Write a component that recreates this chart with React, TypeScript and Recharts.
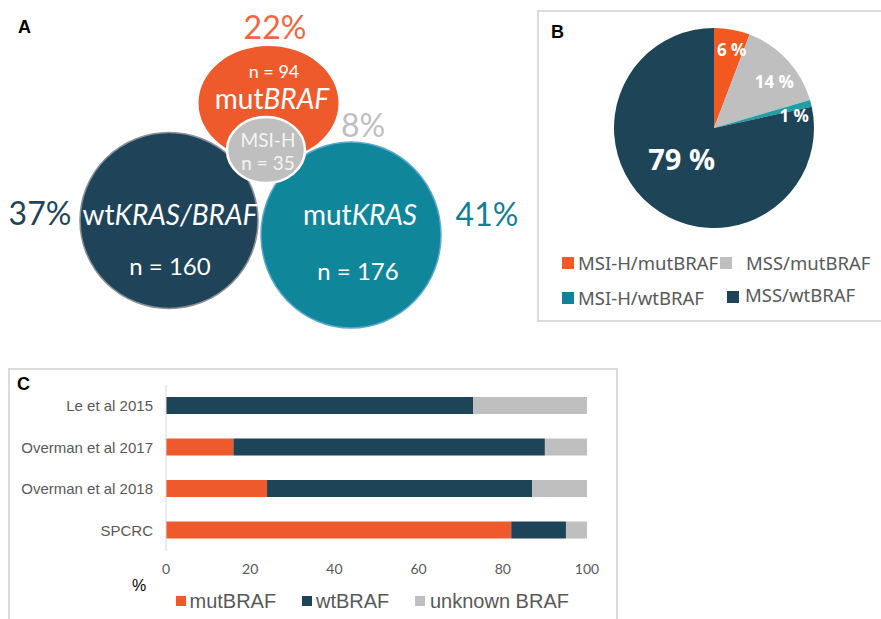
import React from 'react';
import { ScatterChart, Scatter, XAxis, YAxis, PieChart, Pie, Cell, BarChart, Bar } from 'recharts';

// ---------- Panel A data ----------
const vennSets = ['mutBRAF', 'wtKRAS/BRAF', 'mutKRAS', 'MSI-H'];
const vennCounts = [94, 160, 176, 35];
const vennPercents = [22, 37, 41, 8];

// ---------- Panel B data ----------
const pieCategories = ['MSI-H/mutBRAF', 'MSS/mutBRAF', 'MSI-H/wtBRAF', 'MSS/wtBRAF'];
const pieValues = [5.8, 14.7, 1.1, 78.4];
const pieLabels = ['6 %', '14 %', '1 %', '79 %'];

// ---------- Panel C data ----------
const studies = ['Le et al 2015', 'Overman et al 2017', 'Overman et al 2018', 'SPCRC'];
const mutBRAF = [0, 16, 24, 82];
const wtBRAF = [73, 74, 63, 13];
const unknownBRAF = [27, 10, 13, 5];
const barSeries = ['mutBRAF', 'wtBRAF', 'unknown BRAF'];
const xTicks = [0, 20, 40, 60, 80, 100];
const bandBoundaries = [0, 1, 2, 3, 4];

// ---------- styles / layout ----------
const ORANGE = '#EF5A2D';
const DARK = '#1E4458';
const TEAL = '#10869B';
const GRAY = '#BFBFBF';
const TEXT_GRAY = '#595959';

const vennLayout = [
  { x: 268.5, y: 103, rx: 70, ry: 57, fill: ORANGE, stroke: 'none', sw: 0 },
  { x: 169, y: 220.5, rx: 89, ry: 88, fill: '#1F4459', stroke: '#8a9096', sw: 1.5 },
  { x: 351, y: 235, rx: 90, ry: 93, fill: TEAL, stroke: '#5BA7D6', sw: 1.5 },
  { x: 266, y: 150, rx: 39, ry: 33, fill: GRAY, stroke: '#ffffff', sw: 2.5 },
];
const vennTextLayout = [
  { pct: [6.5, -75, 32, '#F0663F'], name: [3.5, -4, 28, '#ffffff'], n: [5.5, -31, 18, '#ffffff'] },
  { pct: [-129, -6.5, 32, '#1F4459'], name: [1, -5.5, 28, '#ffffff'], n: [1, 46.5, 24, '#ffffff'] },
  { pct: [136, -20, 32, '#127F96'], name: [9, -20, 28, '#ffffff'], n: [7, 37, 24, '#ffffff'] },
  { pct: [97, -24, 32, '#BFBFBF'], name: [2, -10, 19, '#f4f4f4'], n: [2, 13, 19, '#f4f4f4'] },
];

const pieColors = ['#F2581F', GRAY, '#1FA0A6', DARK];
const legendColorsB = ['#F05A2A', GRAY, '#0E8399', DARK];
const pieLabelPlace = [
  { a: 12.8, r: 80, size: 17 },
  { a: 52.5, r: 76, size: 17 },
  { a: 81.5, r: 81, size: 17 },
  { a: 226, r: 45, size: 29 },
];
const legendBPlace = [
  { sx: 23, sy: 245, tx: 39, ty: 251 },
  { sx: 181, sy: 245, tx: 207, ty: 251 },
  { sx: 23, sy: 280, tx: 39, ty: 286 },
  { sx: 188, sy: 279, tx: 206, ty: 283 },
];
const barColors = [ORANGE, DARK, GRAY];
const legendCPlace = [
  { sx: 165.5, tx: 179.5 },
  { sx: 292, tx: 306 },
  { sx: 404.5, tx: 420 },
];

const PIE_CX = 175;
const PIE_CY = 116;

const vennData = vennSets.map((name, i) => ({
  name,
  n: vennCounts[i],
  pct: vennPercents[i],
  x: vennLayout[i].x,
  y: vennLayout[i].y,
  idx: i,
}));

const pieData = pieCategories.map((name, i) => ({ name, value: pieValues[i], label: pieLabels[i] }));

const barData = studies.map((study, i) => ({
  study,
  mutBRAF: mutBRAF[i],
  wtBRAF: wtBRAF[i],
  unknown: unknownBRAF[i],
}));

const vennFont = 'Lato, "Open Sans", sans-serif';

const VennShape = (props: any) => {
  const { cx, cy, payload } = props;
  const L = vennLayout[payload.idx];
  return <ellipse cx={cx} cy={cy} rx={L.rx} ry={L.ry} fill={L.fill} stroke={L.stroke} strokeWidth={L.sw} />;
};

const splitName = (name: string) => {
  const m = name.match(/^(mut|wt)(.*)$/);
  if (m) return [m[1], m[2]];
  return [name, ''];
};

const VennText = (props: any) => {
  const { cx, cy, payload } = props;
  const T = vennTextLayout[payload.idx];
  const [plain, ital] = splitName(payload.name);
  const t = (spec: any, content: any, key: string) => (
    <text
      key={key}
      x={cx + spec[0]}
      y={cy + spec[1] + spec[2] * 0.35}
      textAnchor="middle"
      fontSize={spec[2]}
      fill={spec[3]}
      fontFamily={vennFont}
    >
      {content}
    </text>
  );
  return (
    <g>
      {t(T.pct, `${payload.pct}%`, 'p')}
      {t(T.name, [<tspan key="a">{plain}</tspan>, ital ? <tspan key="b" fontStyle="italic">{ital}</tspan> : null], 'nm')}
      {t(T.n, `n = ${payload.n}`, 'n')}
    </g>
  );
};

const renderPieLabel = (props: any) => {
  const { index } = props;
  const P = pieLabelPlace[index];
  const rad = (P.a * Math.PI) / 180;
  const x = PIE_CX + P.r * Math.sin(rad);
  const y = PIE_CY - P.r * Math.cos(rad);
  return (
    <text
      x={x}
      y={y + P.size * 0.36}
      textAnchor="middle"
      fill="#ffffff"
      fontSize={P.size}
      fontWeight="bold"
      fontFamily='"Open Sans", sans-serif'
    >
      {pieLabels[index]}
    </text>
  );
};

const panelLetter = (letter: string, left: number, top: number) => (
  <div
    style={{
      position: 'absolute',
      left,
      top,
      fontFamily: '"Liberation Sans", Arial, sans-serif',
      fontWeight: 'bold',
      fontSize: 18,
      lineHeight: '18px',
      color: '#000',
    }}
  >
    {letter}
  </div>
);

export default function App() {
  return (
    <div
      style={{
        position: 'absolute',
        left: 0,
        top: 0,
        width: 881,
        height: 619,
        overflow: 'hidden',
        background: '#ffffff',
      }}
    >
      {/* Panel A */}
      <div style={{ position: 'absolute', left: 0, top: 0 }}>
        <ScatterChart width={540} height={345} margin={{ top: 0, right: 0, bottom: 0, left: 0 }}>
          <XAxis type="number" dataKey="x" domain={[0, 540]} hide />
          <YAxis type="number" dataKey="y" domain={[0, 345]} reversed hide />
          <Scatter data={vennData} shape={VennShape} isAnimationActive={false} />
          <Scatter data={vennData} shape={VennText} isAnimationActive={false} />
        </ScatterChart>
        {panelLetter('A', 18, 18)}
      </div>

      {/* Panel B */}
      <div
        style={{
          position: 'absolute',
          left: 537,
          top: 10,
          width: 350,
          height: 312,
          border: '2px solid #dcdcdc',
          boxSizing: 'border-box',
        }}
      >
        <PieChart width={344} height={306} margin={{ top: 0, right: 0, bottom: 0, left: 0 }}>
          <Pie
            data={pieData}
            dataKey="value"
            nameKey="name"
            cx={PIE_CX}
            cy={PIE_CY}
            outerRadius={100}
            startAngle={90}
            endAngle={-270}
            stroke="none"
            label={renderPieLabel}
            labelLine={false}
            isAnimationActive={false}
          >
            {pieData.map((d, i) => (
              <Cell key={d.name} fill={pieColors[i]} />
            ))}
          </Pie>
        </PieChart>
        {pieCategories.map((c, i) => {
          const P = legendBPlace[i];
          return (
            <React.Fragment key={c}>
              <div
                style={{
                  position: 'absolute',
                  left: P.sx,
                  top: P.sy,
                  width: 12,
                  height: 12,
                  background: legendColorsB[i],
                }}
              />
              <div
                style={{
                  position: 'absolute',
                  left: P.tx,
                  top: P.ty - 13,
                  height: 26,
                  lineHeight: '26px',
                  fontSize: 18.5,
                  fontFamily: '"Noto Sans", "Open Sans", sans-serif',
                  color: TEXT_GRAY,
                  whiteSpace: 'nowrap',
                }}
              >
                {c}
              </div>
            </React.Fragment>
          );
        })}
        {panelLetter('B', 12, 11)}
      </div>

      {/* Panel C */}
      <div
        style={{
          position: 'absolute',
          left: 8,
          top: 368,
          width: 610,
          height: 262,
          border: '2px solid #dcdcdc',
          boxSizing: 'border-box',
        }}
      >
        <BarChart
          width={606}
          height={249}
          data={barData}
          layout="vertical"
          margin={{ top: 15, right: 29, bottom: 38, left: 0 }}
        >
          <XAxis
            type="number"
            domain={[0, 100]}
            ticks={xTicks}
            axisLine={false}
            tickLine={false}
            tickMargin={7}
            height={30}
            tick={{ fontSize: 14, fill: TEXT_GRAY, fontFamily: 'Lato, sans-serif' }}
          />
          <YAxis
            yAxisId="grid"
            type="number"
            domain={[0, 4]}
            ticks={bandBoundaries}
            width={0}
            tickFormatter={() => ''}
            tickSize={5}
            tickLine={{ stroke: '#d0d0d0' }}
            axisLine={false}
            allowDataOverflow
          />
          <YAxis
            yAxisId="cat"
            type="category"
            dataKey="study"
            width={156}
            axisLine={{ stroke: '#d9d9d9' }}
            tickLine={false}
            tickSize={6}
            tickMargin={7}
            tick={{ fontSize: 15, fill: TEXT_GRAY, fontFamily: '"Liberation Sans", Arial, sans-serif' }}
          />
          <Bar yAxisId="cat" dataKey="mutBRAF" name={barSeries[0]} stackId="s" fill={barColors[0]} barSize={17} isAnimationActive={false} />
          <Bar yAxisId="cat" dataKey="wtBRAF" name={barSeries[1]} stackId="s" fill={barColors[1]} barSize={17} isAnimationActive={false} />
          <Bar yAxisId="cat" dataKey="unknown" name={barSeries[2]} stackId="s" fill={barColors[2]} barSize={17} isAnimationActive={false} />
        </BarChart>
        <div
          style={{
            position: 'absolute',
            left: 122,
            top: 206,
            fontSize: 16,
            lineHeight: '20px',
            fontFamily: '"Liberation Sans", Arial, sans-serif',
            color: '#000',
          }}
        >
          %
        </div>
        {barSeries.map((s, i) => {
          const P = legendCPlace[i];
          return (
            <React.Fragment key={s}>
              <div
                style={{
                  position: 'absolute',
                  left: P.sx,
                  top: 226,
                  width: 10,
                  height: 10,
                  background: barColors[i],
                }}
              />
              <div
                style={{
                  position: 'absolute',
                  left: P.tx,
                  top: 218,
                  height: 26,
                  lineHeight: '26px',
                  fontSize: 20,
                  fontFamily: '"Liberation Sans", Arial, sans-serif',
                  color: TEXT_GRAY,
                  whiteSpace: 'nowrap',
                }}
              >
                {s}
              </div>
            </React.Fragment>
          );
        })}
        {panelLetter('C', 7, 5)}
      </div>
    </div>
  );
}
